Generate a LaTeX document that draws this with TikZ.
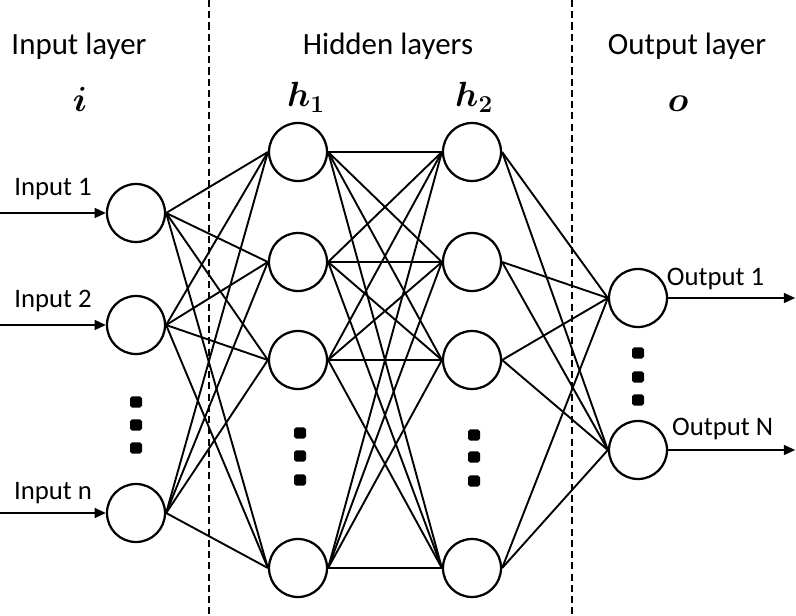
\documentclass[tikz,border=0pt]{standalone}
\usepackage{fontspec}
\setmainfont{Carlito}
\usepackage{amsmath}
\usepackage{tikz}
\usetikzlibrary{arrows.meta}

\begin{document}
\begin{tikzpicture}[neuron/.style={circle,draw,line width=1.6pt,minimum size=1.45cm,inner sep=0pt},
    gapdot/.style={rectangle,rounded corners=1.4pt,fill,inner sep=0pt,minimum width=0.3cm,minimum height=0.28cm},
    title/.style={font=\fontsize{22}{26}\selectfont,anchor=base},
    lbl/.style={font=\fontsize{19}{23}\selectfont,anchor=base},
    sym/.style={font=\fontsize{25}{29}\selectfont\boldmath,anchor=base},
    every edge/.style={draw,line width=1.35pt}]

    \useasboundingbox (0,0) rectangle (19.9,15.375);

    % layer separators
    \draw[line width=1.3pt,dash pattern=on 5pt off 3pt] (5.225,15.375) -- (5.225,0);
    \draw[line width=1.3pt,dash pattern=on 5pt off 3pt] (14.3,15.375) -- (14.3,0);

    \node[title]  (tin)  at (1.975, 14.0)   {Input layer};
    \node[title]  (thid) at (9.7, 14.0)     {Hidden layers};
    \node[title]  (tout) at (17.175, 14.0)  {Output layer};

    \node[sym]    (si)   at (2.0, 12.575)   {$i$};
    \node[sym]    (sh1)  at (7.65, 12.7)    {$h_1$};
    \node[sym]    (sh2)  at (11.85, 12.7)   {$h_2$};
    \node[sym]    (so)   at (16.95, 12.575) {$o$};

    \node[neuron]   (i1)  at (3.4, 10.05)   {};
    \node[neuron]   (i2)  at (3.4, 7.25)    {};
    \node[neuron]   (in)  at (3.4, 2.55)    {};

    \node[neuron]   (h11) at (7.45, 11.575) {};
    \node[neuron]   (h12) at (7.45, 8.825)  {};
    \node[neuron]   (h13) at (7.45, 6.375)  {};
    \node[neuron]   (h14) at (7.45, 1.175)  {};

    \node[neuron]   (h21) at (11.8, 11.575) {};
    \node[neuron]   (h22) at (11.8, 8.825)  {};
    \node[neuron]   (h23) at (11.8, 6.375)  {};
    \node[neuron]   (h24) at (11.8, 1.175)  {};

    \node[neuron]   (o1)  at (15.95, 7.925) {};
    \node[neuron]   (oN)  at (15.95, 4.125) {};

    % vertical dots
    \node[gapdot] (di1) at (3.4, 5.325)  {};
    \node[gapdot] (di2) at (3.4, 4.75)   {};
    \node[gapdot] (di3) at (3.4, 4.175)  {};
    \node[gapdot] (da1) at (7.5, 4.55)   {};
    \node[gapdot] (da2) at (7.5, 3.975)  {};
    \node[gapdot] (da3) at (7.5, 3.375)  {};
    \node[gapdot] (db1) at (11.85, 4.5)  {};
    \node[gapdot] (db2) at (11.85, 3.95) {};
    \node[gapdot] (db3) at (11.85, 3.35) {};
    \node[gapdot] (do1) at (15.95, 6.55) {};
    \node[gapdot] (do2) at (15.95, 5.95) {};
    \node[gapdot] (do3) at (15.95, 5.375) {};

    % inputs and outputs
    \coordinate (x1) at (0, 10.05);
    \coordinate (x2) at (0, 7.25);
    \coordinate (xn) at (0, 2.55);
    \coordinate (y1) at (19.88, 7.925);
    \coordinate (yN) at (19.88, 4.125);

    \draw[line width=1.35pt,-{Triangle[length=8pt,width=7pt]}] (x1) -- (i1.west);
    \draw[line width=1.35pt,-{Triangle[length=8pt,width=7pt]}] (x2) -- (i2.west);
    \draw[line width=1.35pt,-{Triangle[length=8pt,width=7pt]}] (xn) -- (in.west);
    \draw[line width=1.35pt,-{Triangle[length=8pt,width=7pt]}] (o1.east) -- (y1);
    \draw[line width=1.35pt,-{Triangle[length=8pt,width=7pt]}] (oN.east) -- (yN);

    \node[lbl] (li1) at (1.325, 10.5)  {Input 1};
    \node[lbl] (li2) at (1.325, 7.7)   {Input 2};
    \node[lbl] (lin) at (1.325, 2.9)   {Input n};
    \node[lbl,anchor=base west] (lo1) at (16.55, 8.25) {Output 1};
    \node[lbl,anchor=base west] (loN) at (16.68, 4.5) {Output N};

    % connections
    \draw (i1.east) edge (h11.west) edge (h12.west) edge (h13.west) edge (h14.west);
    \draw (i2.east) edge (h11.west) edge (h12.west) edge (h13.west) edge (h14.west);
    \draw (in.east) edge (h11.west) edge (h12.west) edge (h13.west) edge (h14.west);

    \draw (h11.east) edge (h21.west) edge (h22.west) edge (h23.west) edge (h24.west);
    \draw (h12.east) edge (h21.west) edge (h22.west) edge (h23.west) edge (h24.west);
    \draw (h13.east) edge (h21.west) edge (h22.west) edge (h23.west) edge (h24.west);
    \draw (h14.east) edge (h21.west) edge (h22.west) edge (h23.west) edge (h24.west);

    \draw (h21.east) edge (o1.west) edge (oN.west);
    \draw (h22.east) edge (o1.west) edge (oN.west);
    \draw (h23.east) edge (o1.west) edge (oN.west);
    \draw (h24.east) edge (o1.west) edge (oN.west);
  \end{tikzpicture}
\end{document}
